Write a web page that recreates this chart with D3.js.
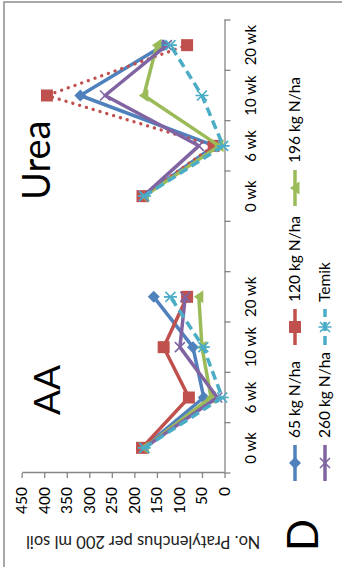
<!DOCTYPE html>
<html>
<head>
<meta charset="utf-8">
<script src="https://cdn.jsdelivr.net/npm/d3@7"></script>
<style>
  body { margin: 0; background: #fff; }
  svg { display: block; font-family: Lato, "Liberation Sans", sans-serif; }
</style>
</head>
<body>
<div id="chart"></div>
<script>
// chart values (weeks after treatment, two groups with an empty slot between)
const categories = ['0 wk', '6 wk', '10 wk', '20 wk', '', '0 wk', '6 wk', '10 wk', '20 wk'];
const groupNames = ['AA', 'Urea'];
const groupIdx = [[0, 1, 2, 3], [5, 6, 7, 8]];
const yTicks = [0, 50, 100, 150, 200, 250, 300, 350, 400, 450];

const n65 = [180, 46, 70, 157, null, 180, 22, 320, 135];
const n120 = [183, 79, 135, 83, null, 182, 24, 394, 83];
const n196 = [178, 30, 50, 57, null, 178, 12, 179, 150];
const n260 = [178, 16, 99, 87, null, 180, 57, 265, 128];
const temik = [178, 5, 47, 120, null, 178, 3, 50, 120];

const seriesNames = ['65 kg N/ha', '120 kg N/ha', '196 kg N/ha', '260 kg N/ha', 'Temik'];
const seriesValues = [n65, n120, n196, n260, temik];

const colors = ['#4F81BD', '#C0504D', '#9BBB59', '#8064A2', '#4BACC6'];
const markers = ['diamond', 'square', 'triangle', 'x', 'star'];
// dash per group: [AA, Urea]
const dashes = [[null, null], [null, 'dot'], [null, null], [null, null], ['dash', 'dash']];

const width = 342, height = 567;
// the whole figure was turned a quarter turn anticlockwise; draw upright, then rotate
const OW = 567, OH = 342;

const svg = d3.select('#chart').append('svg')
  .attr('width', width)
  .attr('height', height);

// outer frame (only top/left visible)
svg.append('rect')
  .attr('x', 4).attr('y', 2)
  .attr('width', 400).attr('height', 700)
  .attr('fill', 'none')
  .attr('stroke', '#8c8c8c')
  .attr('stroke-width', 1.5);

const g = svg.append('g')
  .attr('transform', `translate(0,${OW}) rotate(-90)`);

const x = d3.scaleBand().domain(d3.range(categories.length)).range([94, 547]);
const y = d3.scaleLinear().domain([0, 450]).range([224.5, 21.7]);
const axisColor = '#868686';

// value axis
const yAxis = g.append('g')
  .attr('transform', 'translate(94,0)')
  .call(d3.axisLeft(y).tickValues(yTicks).tickSize(5).tickSizeOuter(0).tickPadding(9));
yAxis.selectAll('path, line').attr('stroke', axisColor).attr('stroke-width', 1.3);
yAxis.selectAll('text').attr('font-size', 15.5).attr('fill', '#000').attr('font-family', 'Lato');

// category axis
const xAxis = g.append('g')
  .attr('transform', `translate(0,${y(0)})`)
  .call(d3.axisBottom(x).tickFormat(i => categories[i]).tickSize(0).tickSizeOuter(0).tickPadding(21));
xAxis.selectAll('path').attr('stroke', axisColor).attr('stroke-width', 1.3);
xAxis.selectAll('text').attr('font-size', 15).attr('fill', '#000').attr('font-family', 'Lato');
xAxis.selectAll('.bound')
  .data(d3.range(categories.length + 1))
  .join('line')
  .attr('class', 'bound')
  .attr('x1', i => x.range()[0] + i * x.bandwidth())
  .attr('x2', i => x.range()[0] + i * x.bandwidth())
  .attr('y1', 0).attr('y2', 6)
  .attr('stroke', axisColor).attr('stroke-width', 1.3);

// axis title
g.append('text')
  .attr('transform', `translate(25,${(y(0) + y(450)) / 2 + 20}) rotate(-90)`)
  .attr('text-anchor', 'middle')
  .attr('dy', '0.35em')
  .attr('font-size', 16.5)
  .attr('fill', '#222')
  .text('No. Pratylenchus per 200 ml soil');

// marker drawing
function drawMarker(sel, type, color) {
  if (type === 'diamond') {
    sel.append('path').attr('d', 'M0,-6L6,0L0,6L-6,0Z').attr('fill', color);
  } else if (type === 'square') {
    sel.append('rect').attr('x', -6).attr('y', -6).attr('width', 12).attr('height', 12).attr('fill', color);
  } else if (type === 'triangle') {
    sel.append('path').attr('d', 'M0,-5L6.5,4.5L-6.5,4.5Z').attr('fill', color);
  } else if (type === 'x') {
    sel.append('path').attr('d', 'M-5,-5L5,5M-5,5L5,-5').attr('stroke', color).attr('stroke-width', 1.6);
  } else if (type === 'star') {
    sel.append('path').attr('d', 'M-5,-5L5,5M-5,5L5,-5M0,-6.5L0,6.5').attr('stroke', color).attr('stroke-width', 1.6);
  }
}

function dashArray(d) {
  if (d === 'dot') return '0.1 7';
  if (d === 'dash') return '9 5';
  return null;
}

const line = d3.line()
  .x(d => x(d.i) + x.bandwidth() / 2)
  .y(d => y(d.v));

const plot = g.append('g');
seriesValues.forEach((vals, s) => {
  const sg = plot.append('g');
  groupIdx.forEach((idx, k) => {
    const pts = idx.map(i => ({i: i, v: vals[i]}));
    sg.append('path')
      .attr('d', line(pts))
      .attr('fill', 'none')
      .attr('stroke', colors[s])
      .attr('stroke-width', dashes[s][k] === 'dot' ? 3.3 : 3.5)
      .attr('stroke-linecap', dashes[s][k] === 'dot' ? 'round' : 'butt')
      .attr('stroke-linejoin', 'round')
      .attr('stroke-dasharray', dashArray(dashes[s][k]));
  });
  vals.forEach((v, i) => {
    if (v === null) return;
    const m = sg.append('g')
      .attr('transform', `translate(${x(i) + x.bandwidth() / 2},${y(v)})`);
    drawMarker(m, markers[s], colors[s]);
  });
});

// group labels
g.append('text').attr('x', 152).attr('y', 60).attr('font-size', 37).attr('fill', '#000').text(groupNames[0]);
g.append('text').attr('x', 367).attr('y', 50).attr('font-size', 38).attr('fill', '#000').text(groupNames[1]);

// panel letter
g.append('text').attr('x', 16).attr('y', 318).attr('font-size', 42).attr('fill', '#000').text('D');

// legend
const legendPos = [[86, 295], [222, 295], [361, 295], [86, 325], [222, 325]];
seriesNames.forEach((name, s) => {
  const [lx, ly] = legendPos[s];
  const lg = g.append('g').attr('transform', `translate(${lx},${ly})`);
  lg.append('line')
    .attr('x1', 0).attr('x2', 36).attr('y1', 0).attr('y2', 0)
    .attr('stroke', colors[s]).attr('stroke-width', 3.5)
    .attr('stroke-dasharray', dashArray(dashes[s][0]));
  drawMarker(lg.append('g').attr('transform', 'translate(18,0)'), markers[s], colors[s]);
  lg.append('text')
    .attr('x', 43).attr('y', 0).attr('dy', '0.35em')
    .attr('font-size', 15.5).attr('fill', '#000')
    .text(name);
});
</script>
</body>
</html>
